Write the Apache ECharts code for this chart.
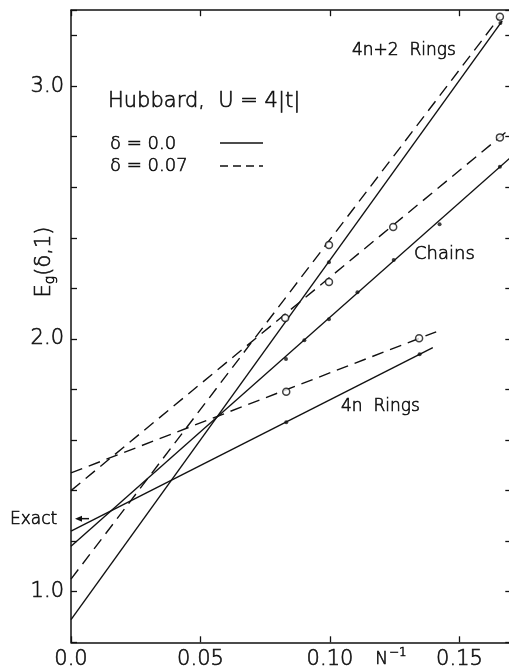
<!DOCTYPE html>
<html><head><meta charset="utf-8">
<script src="https://cdn.jsdelivr.net/npm/echarts@6/dist/echarts.min.js"></script>
<style>html,body{margin:0;padding:0;background:#fff}#c{width:509px;height:667px}</style>
</head><body><div id="c"></div>
<script>
// ---- data ----
const xTickValues = [0, 0.05, 0.10, 0.15];
const xTickLabels = ['0.0', '0.05', '0.10', '0.15'];
const yTickLabels = ['1.0', '2.0', '3.0'];

// fitted lines (delta = 0.0 solid, delta = 0.07 dashed)
const ring4n2Solid = [[0, 0.89], [0.1665, 3.258]];
const ring4n2Dashed = [[0, 1.05], [0.1656, 3.274]];
const chainsSolid = [[0, 1.18], [0.17, 2.72]];
const chainsDashed = [[0, 1.40], [0.17, 2.835]];
const ring4nSolid = [[0, 1.24], [0.1397, 1.965]];
const ring4nDashed = [[0, 1.47], [0.141, 2.028]];

// computed points
const ring4n2Dots = [[0.0996, 2.303], [0.1658, 3.249]];
const ring4n2Circles = [[0.0996, 2.371], [0.1656, 3.274]];
const chainsDots = [[0.0830, 1.92], [0.0901, 1.995], [0.0996, 2.078], [0.1106, 2.184], [0.1246, 2.312], [0.1423, 2.453], [0.1656, 2.681]];
const chainsCircles = [[0.0827, 2.083], [0.0996, 2.225], [0.1244, 2.443], [0.1656, 2.797]];
const ring4nDots = [[0.0831, 1.670], [0.1346, 1.939]];
const ring4nCircles = [[0.0831, 1.791], [0.1344, 2.003]];

const exactValue = 1.289;

// ---- chart ----
const FONT = '"DejaVu Sans", sans-serif';
const FW = 200;
const INK = '#111';
const SW = 0.6;
const DASH = [12, 7];
const chart = echarts.init(document.getElementById('c'));

function lineSeries(data, dashed) {
  return { type: 'line', data: data, showSymbol: false, silent: true, z: 2,
    lineStyle: { color: INK, width: 1.4, type: dashed ? DASH : 'solid' } };
}
function dotSeries(data) {
  return { type: 'scatter', data: data, symbol: 'circle', symbolSize: 4, z: 4,
    itemStyle: { color: INK } };
}
function circleSeries(data) {
  return { type: 'scatter', data: data, symbol: 'circle', symbolSize: 7, z: 5,
    itemStyle: { color: '#fff', borderColor: INK, borderWidth: 1.5 } };
}

const axisCommon = {
  type: 'value', splitLine: { show: false },
  axisLine: { show: true, onZero: false, lineStyle: { color: INK, width: 1.5 } },
  axisTick: { show: true, inside: true, length: 6, lineStyle: { color: INK, width: 1.3 } }
};
const labelFont = { fontFamily: FONT, fontWeight: FW, fontSize: 21, color: INK,
  textBorderColor: INK, textBorderWidth: SW };

chart.setOption({
  animation: false,
  backgroundColor: '#fff',
  grid: { left: 71, right: -2.3, top: 10.2, bottom: 24.7, outerBoundsMode: 'none' },
  xAxis: [
    Object.assign({}, axisCommon, { position: 'bottom', min: 0, max: 0.17, interval: 0.05,
      axisLabel: Object.assign({ show: true, margin: 7, showMaxLabel: false,
        formatter: function (v) {
          for (let i = 0; i < xTickValues.length; i++) if (Math.abs(v - xTickValues[i]) < 1e-6) return xTickLabels[i];
          return '';
        } }, labelFont) }),
    Object.assign({}, axisCommon, { position: 'top', min: 0, max: 0.17, interval: 0.05,
      axisLabel: { show: false } })
  ],
  yAxis: [
    Object.assign({}, axisCommon, { position: 'left', min: 0.8, max: 3.3, interval: 0.2,
      axisLabel: Object.assign({ show: true, margin: 7,
        formatter: function (v) {
          const s = v.toFixed(1);
          return (Math.abs(v - Math.round(v)) < 1e-6 && yTickLabels.indexOf(s) >= 0) ? s : '';
        } }, labelFont) }),
    Object.assign({}, axisCommon, { position: 'right', min: 0.8, max: 3.3, interval: 0.2,
      axisLabel: { show: false } })
  ],
  series: [
    lineSeries(ring4n2Solid, false), lineSeries(ring4n2Dashed, true),
    lineSeries(chainsSolid, false), lineSeries(chainsDashed, true),
    lineSeries(ring4nSolid, false), lineSeries(ring4nDashed, true),
    dotSeries(ring4n2Dots), circleSeries(ring4n2Circles),
    dotSeries(chainsDots), circleSeries(chainsCircles),
    dotSeries(ring4nDots), circleSeries(ring4nCircles)
  ]
});

const ey = chart.convertToPixel({ yAxisIndex: 0 }, exactValue);
const ax = chart.convertToPixel({ xAxisIndex: 0 }, 0);

function txt(x, y, text, size, align) {
  return { type: 'text', x: x, y: y, z: 10,
    style: { text: text, fontFamily: FONT, fontWeight: FW, fontSize: size, fill: INK,
      stroke: INK, lineWidth: SW,
      align: align || 'left', verticalAlign: 'middle' } };
}

chart.setOption({
  graphic: [
    txt(108, 102, 'Hubbard,  U = 4|t|', 21),
    txt(110, 144, 'δ = 0.0', 18),
    txt(110, 166, 'δ = 0.07', 18),
    { type: 'line', z: 10, shape: { x1: 220, y1: 143, x2: 263, y2: 143 },
      style: { stroke: INK, lineWidth: 1.4 } },
    { type: 'line', z: 10, shape: { x1: 220, y1: 166, x2: 263, y2: 166 },
      style: { stroke: INK, lineWidth: 1.4, lineDash: [8, 5] } },
    txt(352, 51, '4n+2  Rings', 17),
    txt(414, 254, 'Chains', 18),
    txt(341, 407, '4n  Rings', 17),
    txt(10, ey + 1, 'Exact', 17),
    { type: 'line', z: 10, shape: { x1: ax + 18, y1: ey, x2: ax + 8, y2: ey },
      style: { stroke: INK, lineWidth: 1.5 } },
    { type: 'polygon', z: 10, shape: { points: [[ax + 4, ey], [ax + 11, ey - 3], [ax + 11, ey + 3]] },
      style: { fill: INK } },
    { type: 'text', x: 45, y: 262, rotation: Math.PI / 2, z: 10,
      style: { text: '{a|E}{b|g}{a|(δ,1)}', align: 'center', verticalAlign: 'middle',
        stroke: INK, lineWidth: SW,
        rich: { a: { fontFamily: FONT, fontWeight: FW, fontSize: 21, fill: INK, stroke: INK, lineWidth: SW },
                b: { fontFamily: FONT, fontWeight: FW, fontSize: 14, fill: INK, stroke: INK, lineWidth: SW, padding: [10, 0, 0, 0] } } } },
    { type: 'text', x: 391, y: 657, z: 10,
      style: { text: '{a|N}{b|−1}', align: 'center', verticalAlign: 'middle',
        stroke: INK, lineWidth: SW,
        rich: { a: { fontFamily: FONT, fontWeight: FW, fontSize: 17, fill: INK, stroke: INK, lineWidth: SW, padding: [6, 0, 0, 0] },
                b: { fontFamily: FONT, fontWeight: FW, fontSize: 12, fill: INK, stroke: INK, lineWidth: SW, padding: [0, 0, 8, 1] } } } }
  ]
});
</script>
</body></html>
